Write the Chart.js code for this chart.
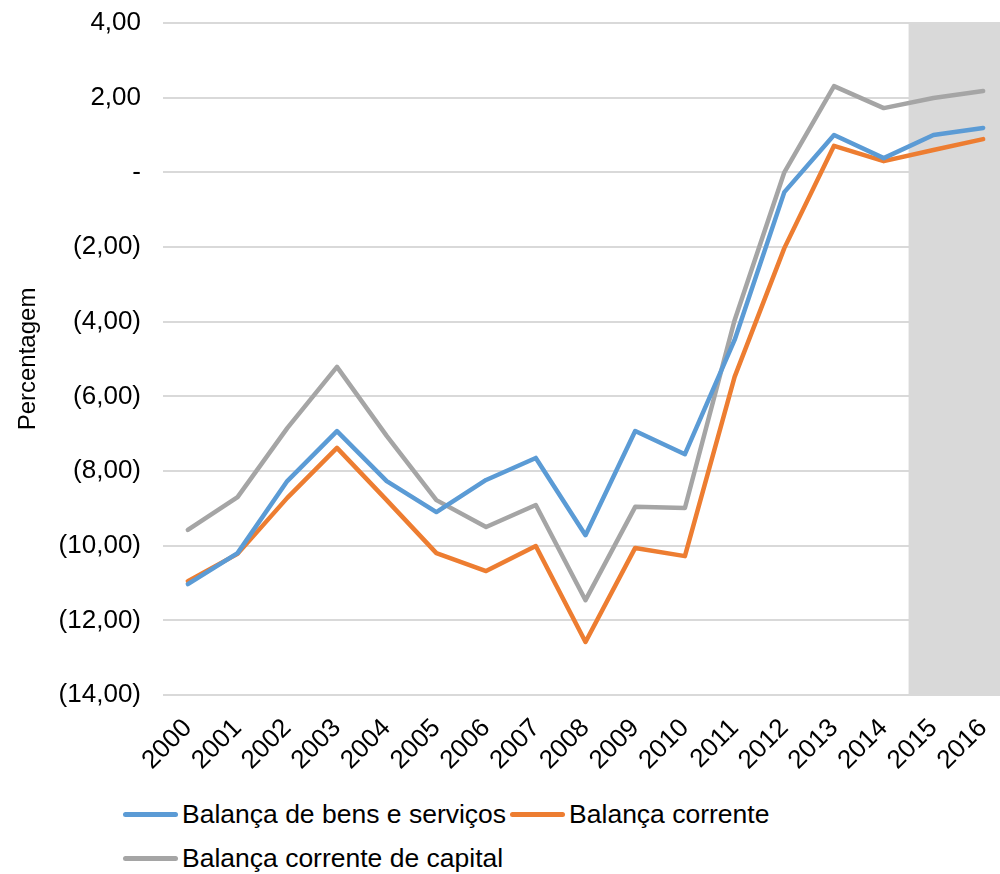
<!DOCTYPE html>
<html>
<head>
<meta charset="utf-8">
<script src="https://cdn.jsdelivr.net/npm/chart.js@4"></script>
<style>
  body { margin: 0; background: #fff; font-family: "Liberation Sans", Arial, sans-serif; overflow: hidden; }
  #caixa { position: relative; width: 1008px; height: 775px; }
  #legenda { display: flex; flex-wrap: wrap; width: 870px; margin-left: 123px; margin-top: 24px; row-gap: 14px; }
  .item { display: flex; align-items: center; font-size: 26.5px; color: #000; height: 30px; margin-right: 4px; }
  .item span.traco { display: inline-block; width: 55px; height: 5px; border-radius: 3px; margin-right: 4px; }
</style>
</head>
<body>
<div id="caixa"><canvas id="grafico"></canvas></div>
<div id="legenda"></div>
<script>
const anos = ['2000','2001','2002','2003','2004','2005','2006','2007','2008','2009','2010','2011','2012','2013','2014','2015','2016'];
const bensServicos = [-11.03, -10.2, -8.27, -6.93, -8.27, -9.1, -8.24, -7.65, -9.72, -6.93, -7.55, -4.49, -0.53, 1.0, 0.38, 1.0, 1.19];
const corrente = [-10.95, -10.22, -8.72, -7.38, -8.78, -10.2, -10.68, -10.01, -12.58, -10.06, -10.28, -5.48, -2.03, 0.71, 0.3, 0.6, 0.89];
const correnteCapital = [-9.58, -8.7, -6.85, -5.21, -7.06, -8.78, -9.5, -8.91, -11.46, -8.96, -8.99, -3.96, 0.0, 2.31, 1.72, 1.99, 2.18];
const inicioProjecao = '2015';

const series = [
  { nome: 'Balança de bens e serviços', dados: bensServicos, cor: '#5b9bd5' },
  { nome: 'Balança corrente', dados: corrente, cor: '#ed7d31' },
  { nome: 'Balança corrente de capital', dados: correnteCapital, cor: '#a5a5a5' },
];

function formatarValor(v) {
  if (Math.abs(v) < 1e-9) return '-';
  const txt = Math.abs(v).toFixed(2).replace('.', ',');
  return v < 0 ? `(${txt})` : txt;
}

// faixa cinzenta das projeções
const faixaProjecao = {
  id: 'faixaProjecao',
  beforeDatasetsDraw(chart) {
    const { ctx, chartArea, scales: { x } } = chart;
    const i = anos.indexOf(inicioProjecao);
    const inicio = (x.getPixelForValue(i - 1) + x.getPixelForValue(i)) / 2;
    ctx.save();
    ctx.fillStyle = '#d9d9d9';
    ctx.fillRect(inicio, chartArea.top, chartArea.right - inicio, chartArea.bottom - chartArea.top);
    ctx.restore();
  },
};

const fonte = { family: '"Liberation Sans", Arial, sans-serif', size: 26 };

new Chart(document.getElementById('grafico'), {
  type: 'line',
  data: {
    labels: anos,
    datasets: series.map(s => ({
      label: s.nome,
      data: s.dados,
      borderColor: s.cor,
      backgroundColor: s.cor,
      borderWidth: 4.5,
      borderJoinStyle: 'round',
      borderCapStyle: 'round',
      tension: 0,
      pointRadius: 0,
      fill: false,
    })),
  },
  options: {
    responsive: true,
    maintainAspectRatio: false,
    animation: false,
    layout: { padding: { top: 23, right: 0, left: 0, bottom: 0 } },
    plugins: {
      legend: { display: false },
      tooltip: { enabled: false },
    },
    scales: {
      x: {
        offset: true,
        grid: { display: false },
        border: { display: false },
        ticks: { color: '#000', font: fonte, minRotation: 45, maxRotation: 45, autoSkip: false, padding: 10 },
        afterFit(scale) {
          scale.height = 80;
          scale.paddingLeft = 0;
          scale.paddingRight = 0;
        },
      },
      y: {
        min: -14,
        max: 4,
        grid: { color: '#d9d9d9', lineWidth: 2, drawTicks: false },
        border: { display: false },
        ticks: { stepSize: 2, color: '#000', font: fonte, padding: 22, callback: v => formatarValor(v) },
        title: { display: true, text: 'Percentagem', color: '#000', font: { family: fonte.family, size: 24 }, padding: { top: 14, bottom: 0 } },
        afterFit(scale) {
          scale.width = 163;
          scale.paddingTop = 0;
          scale.paddingBottom = 0;
        },
      },
    },
  },
  plugins: [faixaProjecao],
});

document.getElementById('legenda').innerHTML = series.map(s => `
  <div class="item"><span class="traco" style="background:${s.cor}"></span>${s.nome}</div>
`).join('');
</script>
</body>
</html>
